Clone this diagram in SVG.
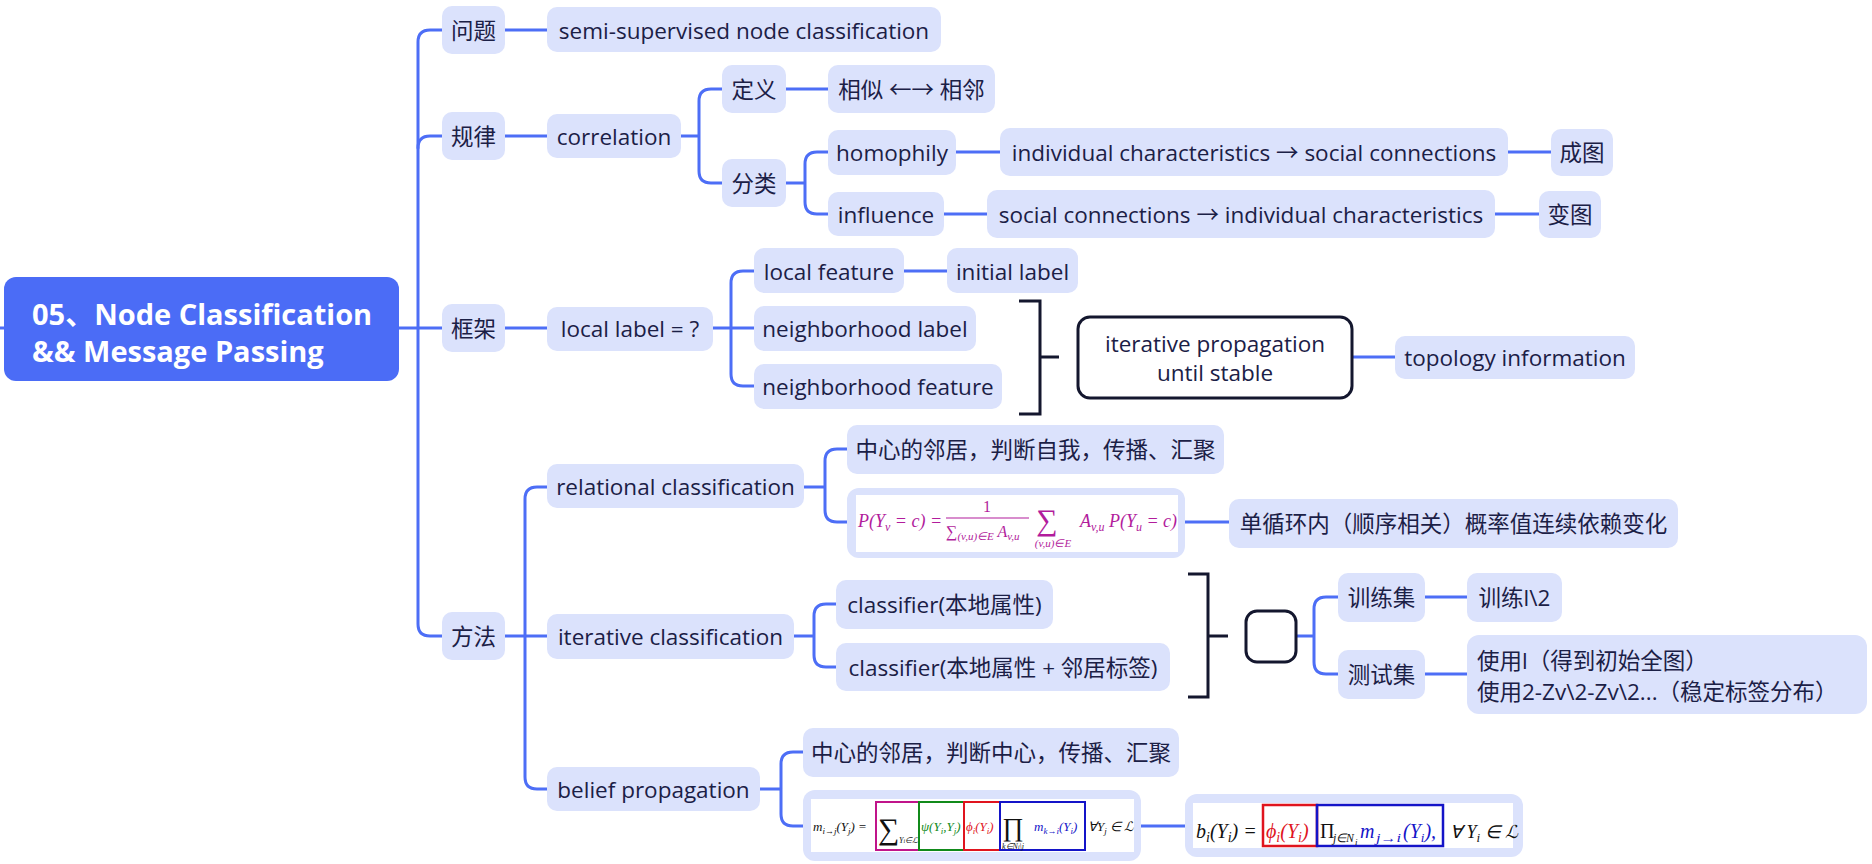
<svg xmlns="http://www.w3.org/2000/svg" width="1872" height="864" viewBox="0 0 1872 864">
<style>
.n{fill:#dbe2fc}
.t{font-family:"Open Sans","Noto Sans CJK SC",sans-serif;font-size:22.5px;fill:#1b2046;text-anchor:middle;dominant-baseline:central}
.ts{font-family:"Open Sans","Noto Sans CJK SC",sans-serif;font-size:22.5px;fill:#1b2046;text-anchor:start;dominant-baseline:central}
.c{fill:none;stroke:#4d6ef6;stroke-width:3;stroke-linecap:round}
.k{fill:none;stroke:#14172e;stroke-width:3}
.m{font-family:"Liberation Serif",serif;font-style:italic}
.u{font-style:normal}
</style>
<rect width="1872" height="864" fill="#ffffff"/>
<g id="connectors">
<path class="c" d="M0,328 H4"/>
<path class="c" d="M399,328 H442"/>
<path class="c" d="M442,30 H430 Q418,30 418,42 V624 Q418,636 430,636 H442"/>
<path class="c" d="M418,148 Q418,136 430,136 H442"/>
<path class="c" d="M505,30 H547"/>
<path class="c" d="M505,136 H547"/>
<path class="c" d="M505,328 H547"/>
<path class="c" d="M505,636 H547 M547,487 H537 Q525,487 525,499 V777 Q525,789 537,789 H547"/>
<path class="c" d="M681,136 H699 M722,89 H711 Q699,89 699,101 V171 Q699,183 711,183 H722"/>
<path class="c" d="M786,89 H828"/>
<path class="c" d="M786,183 H805 M828,152 H817 Q805,152 805,164 V202 Q805,214 817,214 H828"/>
<path class="c" d="M956,152 H1000 M1508,152 H1551"/>
<path class="c" d="M944,214 H987 M1495,214 H1539"/>
<path class="c" d="M713,328 H754 M754,271 H743 Q731,271 731,283 V374 Q731,386 743,386 H754"/>
<path class="c" d="M904,271 H947"/>
<path class="c" d="M1352,357 H1395"/>
<path class="c" d="M804,487 H825 M847,449 H837 Q825,449 825,461 V510 Q825,522 837,522 H847"/>
<path class="c" d="M1185,522 H1229"/>
<path class="c" d="M794,636 H814 M836,604 H826 Q814,604 814,616 V655 Q814,667 826,667 H836"/>
<path class="c" d="M1296,636 H1314 M1338,597 H1326 Q1314,597 1314,609 V662 Q1314,674 1326,674 H1338"/>
<path class="c" d="M1425,597 H1467 M1425,674 H1467"/>
<path class="c" d="M760,789 H781 M803,752 H793 Q781,752 781,764 V814 Q781,826 793,826 H803"/>
<path class="c" d="M1141,826 H1185"/>
<path class="k" d="M1019,301 H1040 V414 H1019 M1040,357 H1059"/>
<path class="k" d="M1188,574 H1208 V697 H1188 M1208,636 H1228"/>
</g>
<g id="root">
<rect x="4" y="277" width="395" height="104" rx="12" fill="#4b6cf6"/>
<text x="32" y="313" font-family="Open Sans,Noto Sans CJK SC,sans-serif" font-size="29" font-weight="700" fill="#ffffff" dominant-baseline="central">05、Node Classification</text>
<text x="32" y="350" font-family="Open Sans,Noto Sans CJK SC,sans-serif" font-size="29" font-weight="700" fill="#ffffff" dominant-baseline="central">&amp;&amp; Message Passing</text>
</g>
<g id="n-wenti"><rect class="n" x="442" y="6" width="63" height="48" rx="10"/><text class="t" x="473.5" y="30">问题</text></g>
<g id="n-semi"><rect class="n" x="547" y="7" width="394" height="45" rx="10"/><text class="t" x="744" y="30">semi-supervised node classification</text></g>
<g id="n-guilv"><rect class="n" x="442" y="112" width="63" height="48" rx="10"/><text class="t" x="473.5" y="136">规律</text></g>
<g id="n-correlation"><rect class="n" x="547" y="114" width="134" height="44" rx="10"/><text class="t" x="614" y="136">correlation</text></g>
<g id="n-dingyi"><rect class="n" x="722" y="65" width="64" height="48" rx="10"/><text class="t" x="754" y="89">定义</text></g>
<g id="n-xiangsi"><rect class="n" x="828" y="65" width="167" height="48" rx="10"/><text class="t" x="911.5" y="89">相似 ←→ 相邻</text></g>
<g id="n-fenlei"><rect class="n" x="722" y="159" width="64" height="48" rx="10"/><text class="t" x="754" y="183">分类</text></g>
<g id="n-homophily"><rect class="n" x="828" y="130" width="128" height="45" rx="10"/><text class="t" x="892" y="152">homophily</text></g>
<g id="n-ind-soc"><rect class="n" x="1000" y="128" width="508" height="48" rx="10"/><text class="t" x="1254" y="152">individual characteristics → social connections</text></g>
<g id="n-chengtu"><rect class="n" x="1551" y="129" width="62" height="47" rx="10"/><text class="t" x="1582" y="152">成图</text></g>
<g id="n-influence"><rect class="n" x="828" y="192" width="116" height="44" rx="10"/><text class="t" x="886" y="214">influence</text></g>
<g id="n-soc-ind"><rect class="n" x="987" y="190" width="508" height="48" rx="10"/><text class="t" x="1241" y="214">social connections → individual characteristics</text></g>
<g id="n-biantu"><rect class="n" x="1539" y="191" width="62" height="47" rx="10"/><text class="t" x="1570" y="214">变图</text></g>
<g id="n-kuangjia"><rect class="n" x="442" y="304" width="63" height="48" rx="10"/><text class="t" x="473.5" y="328">框架</text></g>
<g id="n-locallabel"><rect class="n" x="547" y="307" width="166" height="44" rx="10"/><text class="t" x="630" y="328">local label = ?</text></g>
<g id="n-localfeature"><rect class="n" x="754" y="248" width="150" height="45" rx="10"/><text class="t" x="829" y="271">local feature</text></g>
<g id="n-initiallabel"><rect class="n" x="947" y="248" width="131" height="45" rx="10"/><text class="t" x="1012.5" y="271">initial label</text></g>
<g id="n-neighlabel"><rect class="n" x="754" y="306" width="222" height="45" rx="10"/><text class="t" x="865" y="328">neighborhood label</text></g>
<g id="n-neighfeature"><rect class="n" x="754" y="364" width="248" height="45" rx="10"/><text class="t" x="878" y="386">neighborhood feature</text></g>
<g id="n-iterprop"><rect x="1078" y="317" width="274" height="81" rx="12" fill="#ffffff" stroke="#14172e" stroke-width="3"/><text class="t" x="1215" y="343">iterative propagation</text><text class="t" x="1215" y="372">until stable</text></g>
<g id="n-topology"><rect class="n" x="1395" y="336" width="240" height="43" rx="10"/><text class="t" x="1515" y="357">topology information</text></g>
<g id="n-fangfa"><rect class="n" x="442" y="612" width="63" height="48" rx="10"/><text class="t" x="473.5" y="636">方法</text></g>
<g id="n-relational"><rect class="n" x="547" y="464" width="257" height="44" rx="10"/><text class="t" x="675.5" y="486">relational classification</text></g>
<g id="n-rel-desc"><rect class="n" x="847" y="425" width="377" height="49" rx="10"/><text class="t" x="1035.5" y="449">中心的邻居，判断自我，传播、汇聚</text></g>
<g id="n-formula1">
<rect class="n" x="847" y="488" width="338" height="70" rx="12"/>
<rect x="856" y="495" width="322" height="57" fill="#ffffff"/>
<g fill="#b21c9c" class="m">
<text x="858" y="527" font-size="18">P(Y<tspan font-size="12" dy="4">v</tspan><tspan dy="-4"> = </tspan>c) =</text>
<text x="987" y="512" font-size="16" class="u" text-anchor="middle">1</text>
<line x1="946" y1="518" x2="1029" y2="518" stroke="#b21c9c" stroke-width="1.2"/>
<text x="946" y="537" font-size="16"><tspan class="u">∑</tspan><tspan font-size="11" dy="3">(v,u)∈E</tspan><tspan dy="-3"> A</tspan><tspan font-size="11" dy="3">v,u</tspan></text>
<text x="1047" y="530" font-size="30" class="u" text-anchor="middle">∑</text>
<text x="1053" y="547" font-size="11" text-anchor="middle">(v,u)∈E</text>
<text x="1080" y="527" font-size="18">A<tspan font-size="12" dy="4">v,u</tspan><tspan dy="-4"> P(Y</tspan><tspan font-size="12" dy="4">u</tspan><tspan dy="-4"> = c)</tspan></text>
</g>
</g>
<g id="n-danxunhuan"><rect class="n" x="1229" y="499" width="449" height="49" rx="10"/><text class="t" x="1453.5" y="523">单循环内（顺序相关）概率值连续依赖变化</text></g>
<g id="n-iterative"><rect class="n" x="547" y="614" width="247" height="45" rx="10"/><text class="t" x="670.5" y="636">iterative classification</text></g>
<g id="n-classifier1"><rect class="n" x="836" y="580" width="217" height="49" rx="10"/><text class="t" x="944.5" y="604">classifier(本地属性)</text></g>
<g id="n-classifier2"><rect class="n" x="836" y="643" width="334" height="48" rx="10"/><text class="t" x="1003" y="667">classifier(本地属性 + 邻居标签)</text></g>
<g id="n-empty"><rect x="1246" y="611" width="50" height="51" rx="11" fill="#ffffff" stroke="#14172e" stroke-width="3"/></g>
<g id="n-train"><rect class="n" x="1338" y="573" width="87" height="49" rx="10"/><text class="t" x="1381.5" y="597">训练集</text></g>
<g id="n-train2"><rect class="n" x="1467" y="573" width="95" height="49" rx="10"/><text class="t" x="1514.5" y="597">训练l\2</text></g>
<g id="n-test"><rect class="n" x="1338" y="650" width="87" height="49" rx="10"/><text class="t" x="1381.5" y="674">测试集</text></g>
<g id="n-use"><rect class="n" x="1467" y="635" width="400" height="79" rx="12"/><text class="ts" x="1477" y="660">使用l（得到初始全图）</text><text class="ts" x="1477" y="691">使用2-Zv\2-Zv\2...（稳定标签分布）</text></g>
<g id="n-belief"><rect class="n" x="547" y="767" width="213" height="44" rx="10"/><text class="t" x="653.5" y="789">belief propagation</text></g>
<g id="n-belief-desc"><rect class="n" x="803" y="728" width="376" height="49" rx="10"/><text class="t" x="991" y="752">中心的邻居，判断中心，传播、汇聚</text></g>
<g id="n-formula2">
<rect class="n" x="803" y="790" width="338" height="71" rx="12"/>
<rect x="811" y="799" width="323" height="53" fill="#ffffff"/>
<g fill="none" stroke-width="2">
<rect x="876" y="802" width="43" height="48" stroke="#c0148a"/>
<rect x="919" y="802" width="45" height="48" stroke="#118a1a"/>
<rect x="964" y="802" width="36" height="48" stroke="#e0141e"/>
<rect x="1000" y="802" width="85" height="48" stroke="#1414c8"/>
</g>
<g class="m" font-size="13">
<text x="813" y="831" fill="#111111">m<tspan font-size="9" dy="3">i→j</tspan><tspan dy="-3">(Y</tspan><tspan font-size="9" dy="3">j</tspan><tspan dy="-3">) =</tspan></text>
<text x="878" y="839" fill="#111111" font-size="30" class="u">∑</text>
<text x="899" y="843" fill="#111111" font-size="8">Y<tspan font-size="6">i</tspan>∈ℒ</text>
<text x="921" y="831" fill="#118a1a">ψ(Y<tspan font-size="9" dy="3">i</tspan><tspan dy="-3">,Y</tspan><tspan font-size="9" dy="3">j</tspan><tspan dy="-3">)</tspan></text>
<text x="966" y="831" fill="#e0141e">ϕ<tspan font-size="9" dy="3">i</tspan><tspan dy="-3">(Y</tspan><tspan font-size="9" dy="3">i</tspan><tspan dy="-3">)</tspan></text>
<text x="1013" y="836" fill="#111111" font-size="26" class="u" text-anchor="middle">∏</text>
<text x="1013" y="849" fill="#111111" font-size="8" text-anchor="middle">k∈N<tspan font-size="6">i</tspan>\j</text>
<text x="1034" y="831" fill="#1414c8">m<tspan font-size="9" dy="3">k→i</tspan><tspan dy="-3">(Y</tspan><tspan font-size="9" dy="3">i</tspan><tspan dy="-3">)</tspan></text>
<text x="1088" y="831" fill="#111111">∀Y<tspan font-size="9" dy="3">j</tspan><tspan dy="-3"> ∈ ℒ</tspan></text>
</g>
</g>
<g id="n-formula3">
<rect class="n" x="1185" y="794" width="338" height="63" rx="12"/>
<rect x="1193" y="803" width="320" height="45" fill="#ffffff"/>
<g fill="none" stroke-width="2.5">
<rect x="1263" y="805" width="54" height="41" stroke="#e0141e"/>
<rect x="1317" y="805" width="126" height="41" stroke="#1414c8"/>
</g>
<g class="m" font-size="20">
<text x="1196" y="838" fill="#111111">b<tspan font-size="14" dy="4">i</tspan><tspan dy="-4">(Y</tspan><tspan font-size="14" dy="4">i</tspan><tspan dy="-4">) =</tspan></text>
<text x="1266" y="838" fill="#e0141e">ϕ<tspan font-size="14" dy="4">i</tspan><tspan dy="-4">(Y</tspan><tspan font-size="14" dy="4">i</tspan><tspan dy="-4">)</tspan></text>
<text x="1320" y="838" fill="#111111" class="u">Π</text>
<text x="1333" y="842" fill="#111111" font-size="12" textLength="21" lengthAdjust="spacingAndGlyphs">j∈N</text>
<text x="1355" y="845" fill="#111111" font-size="9">i</text>
<text x="1360" y="838" fill="#1414c8">m</text>
<text x="1376" y="842" fill="#1414c8" font-size="12" textLength="25" lengthAdjust="spacingAndGlyphs">j→i</text>
<text x="1403" y="838" fill="#1414c8">(Y<tspan font-size="13" dy="4">i</tspan><tspan dy="-4">),</tspan><tspan x="1450" fill="#111111" font-size="18">∀ Y</tspan><tspan font-size="13" dy="4" fill="#111111">i</tspan><tspan dy="-4" fill="#111111" font-size="18"> ∈ ℒ</tspan></text>
</g>
</g>
</svg>
